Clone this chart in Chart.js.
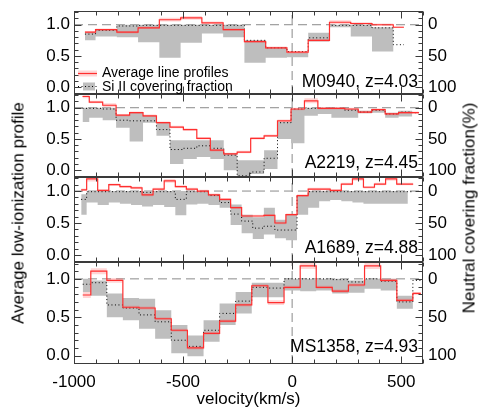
<!DOCTYPE html>
<html><head><meta charset="utf-8">
<script src="https://cdn.jsdelivr.net/npm/chart.js@4.4.1/dist/chart.umd.min.js"></script>
<style>
html,body{margin:0;padding:0;background:#fff;}
#wrap{position:relative;width:498px;height:415px;overflow:hidden;background:#fff;}
#wrap canvas{position:absolute;left:0;}
.vt{position:absolute;font-family:"Liberation Sans",Arial,Helvetica,sans-serif;font-size:17px;color:#000;white-space:nowrap;line-height:1;transform:translate(-50%,-50%) rotate(-90deg);}
</style></head>
<body>
<div id="wrap">
<canvas id="p1"></canvas><canvas id="p2"></canvas><canvas id="p3"></canvas><canvas id="p4"></canvas>
<div class="vt" style="left:18px;top:213px;">Average low-ionization profile</div>
<div class="vt" style="left:469px;top:208px;">Neutral covering fraction(%)</div>
</div>
<script>
const FONT = '"Liberation Sans", Arial, Helvetica, sans-serif';
const X_TICKS = [-1000, -500, 0, 500];
const Y_TICKS = [0, 0.5, 1.0];
const R_TICKS = [0, 50, 100];
const X_MIN = -1000, X_MAX = 600, Y_MIN = -0.11, Y_MAX = 1.22;
const LEGEND_LABELS = ['Average line profiles', 'Si II covering fraction'];

// M0940, z=4.03
const m0940Vel  = [-950,-852.5,-755,-657.5,-560,-462.5,-365,-267.5,-170,-72.5,25,122.5,220,317.5,415,512.5];
const m0940Prof = [0.88,0.92,0.88,0.95,1.08,1.11,1.03,0.92,0.73,0.63,0.56,0.75,1.04,1.02,1.00,0.96];
const m0940Err  = [0.02,0.02,0.02,0.02,0.03,0.03,0.02,0.02,0.02,0.02,0.02,0.02,0.03,0.02,0.02,0.01];
const m0940Cf   = [0.85,0.91,0.98,0.99,0.99,0.99,0.99,0.99,0.75,0.63,0.57,0.79,0.99,0.99,0.95,0.68];
const m0940CfHi = [0.88,0.93,1.00,1.00,1.00,1.00,1.00,1.00,0.75,0.64,0.55,0.87,1.00,1.00,0.96,0.68];
const m0940CfLo = [0.75,0.81,0.80,0.72,0.47,0.71,0.86,0.80,0.39,0.47,0.48,0.73,0.96,0.81,0.57,0.68];

// A2219, z=4.45
const a2219Vel  = [-961,-899,-838,-776,-714,-653,-591,-529,-468,-406,-344,-283,-221,-159,-98,-36,26,87,149,211,272,334,396,457,519,581];
const a2219Prof = [1.18,1.09,1.04,0.88,0.92,0.87,0.76,0.69,0.65,0.51,0.32,0.26,0.29,0.51,0.55,0.79,0.98,1.11,0.99,0.99,0.98,0.93,0.97,0.90,0.92,0.92];
const a2219Err  = [0.03,0.02,0.03,0.02,0.02,0.02,0.02,0.02,0.02,0.02,0.02,0.02,0.02,0.02,0.02,0.02,0.02,0.04,0.02,0.02,0.02,0.02,0.02,0.02,0.02,0.02];
const a2219Cf   = [0.99,0.99,0.98,0.80,0.79,0.79,0.65,0.33,0.35,0.39,0.35,0.24,-0.09,-0.03,0.19,0.76,0.98,0.99,0.99,0.99,0.96,0.93,0.96,0.90,0.93,0.92];
const a2219CfHi = [1.00,1.00,1.00,0.88,0.92,0.87,0.76,0.48,0.48,0.48,0.48,0.27,0.16,0.16,0.32,0.77,0.98,1.00,1.00,1.00,0.98,0.95,0.97,0.92,0.95,0.92];
const a2219CfLo = [0.77,0.84,0.80,0.68,0.46,0.76,0.55,0.10,0.18,0.21,0.18,0.00,-0.10,-0.06,0.02,0.50,0.43,0.87,0.90,0.84,0.84,0.91,0.92,0.84,0.86,0.92];

// A1689, z=4.88
const a1689Vel  = [-967,-917,-866,-815,-764,-713,-663,-612,-561,-510,-460,-409,-358,-307,-257,-206,-155,-104,-54,-3,48,99,149,200,251,302,352,403,454,505,555];
const a1689Prof = [1.02,1.19,1.01,1.10,1.07,1.05,0.94,1.03,1.16,1.07,1.03,1.00,0.94,0.87,0.74,0.61,0.61,0.62,0.50,0.63,0.93,1.03,1.03,1.01,1.11,1.19,1.06,1.11,1.19,1.11,1.11];
const a1689Err  = [0.02,0.04,0.02,0.02,0.02,0.02,0.02,0.02,0.03,0.02,0.02,0.02,0.02,0.02,0.02,0.02,0.02,0.02,0.02,0.02,0.02,0.02,0.02,0.02,0.02,0.03,0.02,0.02,0.03,0.02,0.02];
const a1689Cf   = [0.87,0.99,0.99,0.99,0.99,0.99,0.98,0.99,0.99,0.87,0.99,0.99,0.93,0.82,0.64,0.53,0.42,0.45,0.39,0.39,0.93,0.99,0.99,0.99,0.99,0.99,0.99,0.99,0.99,0.99,0.99];
const a1689CfHi = [0.95,1.00,1.00,1.00,1.00,1.00,1.00,1.00,1.00,1.00,1.00,1.00,0.95,0.87,0.79,0.63,0.59,0.74,0.55,0.63,0.94,1.00,1.00,1.00,1.00,1.00,1.00,1.00,1.00,1.00,0.99];
const a1689CfLo = [0.63,0.82,0.78,0.82,0.80,0.78,0.76,0.78,0.75,0.62,0.79,0.80,0.78,0.74,0.47,0.34,0.25,0.32,0.26,0.23,0.63,0.74,0.84,0.86,0.84,0.82,0.80,0.80,0.80,0.80,0.99];

// MS1358, z=4.93
const ms1358Vel  = [-960,-886,-813,-739,-665,-591,-517,-443,-369,-296,-222,-148,-74,0,74,147,221,295,369,443,517,590];
const ms1358Prof = [0.79,1.10,0.98,0.63,0.62,0.48,0.33,0.10,0.29,0.45,0.66,0.91,0.69,0.89,1.17,0.89,0.84,0.92,1.17,0.98,0.72,0.81];
const ms1358Err  = [0.04,0.04,0.03,0.02,0.02,0.02,0.02,0.02,0.02,0.02,0.02,0.02,0.03,0.02,0.04,0.02,0.02,0.02,0.04,0.02,0.02,0.02];
const ms1358Cf   = [0.93,0.95,0.66,0.62,0.53,0.44,0.20,0.12,0.33,0.55,0.71,0.89,0.88,1.00,1.00,1.00,0.99,0.96,1.00,0.97,0.70,0.98];
const ms1358CfHi = [1.00,0.98,0.81,0.75,0.74,0.59,0.40,0.26,0.46,0.68,0.83,0.95,0.95,1.00,1.00,1.00,1.00,0.98,1.00,1.00,0.78,0.98];
const ms1358CfLo = [0.83,0.78,0.50,0.46,0.35,0.22,0.03,-0.01,0.18,0.40,0.55,0.76,0.76,0.85,0.84,0.85,0.81,0.82,0.87,0.85,0.61,0.98];

const RED = '#ff2e2e', PINK = 'rgba(255,70,70,0.22)', GRAY = '#bebebe', DASH = '#8a8a8a';

const panels = [
  {id:'p1', label:'M0940, z=4.03',  top:11,  bottom:94,  labelY:82,  vel:m0940Vel,  prof:m0940Prof,  err:m0940Err,  cf:m0940Cf,  hi:m0940CfHi,  lo:m0940CfLo,  legend:true},
  {id:'p2', label:'A2219, z=4.45',  top:94,  bottom:177, labelY:163, vel:a2219Vel,  prof:a2219Prof,  err:a2219Err,  cf:a2219Cf,  hi:a2219CfHi,  lo:a2219CfLo},
  {id:'p3', label:'A1689, z=4.88',  top:177, bottom:262, labelY:248, vel:a1689Vel,  prof:a1689Prof,  err:a1689Err,  cf:a1689Cf,  hi:a1689CfHi,  lo:a1689CfLo},
  {id:'p4', label:'MS1358, z=4.93', top:262, bottom:364, labelY:347, vel:ms1358Vel, prof:ms1358Prof, err:ms1358Err, cf:ms1358Cf, hi:ms1358CfHi, lo:ms1358CfLo, isBottom:true}
];

const deco = {
  id: 'deco',
  afterDraw(chart, args, o) {
    const {ctx, chartArea: a} = chart;
    const x = chart.scales.x, y = chart.scales.y, r = chart.scales.yr;
    const L = Math.round(a.left) + 0.5, R = Math.round(a.right) - 0.5;
    const T = Math.round(a.top) + 0.5, B = Math.round(a.bottom) - 0.5;
    ctx.save();
    ctx.strokeStyle = '#3a3a3a'; ctx.lineWidth = 1;
    ctx.strokeRect(L, T, R - L, B - T);
    ctx.beginPath();
    for (let v = X_MIN; v <= X_MAX; v += 100) {
      const px = Math.round(x.getPixelForValue(v)) + 0.5;
      const len = X_TICKS.includes(v) ? 7 : 4;
      ctx.moveTo(px, B); ctx.lineTo(px, B - len);
      ctx.moveTo(px, T); ctx.lineTo(px, T + len);
    }
    for (let k = -1; k <= 12; k++) {
      const py = Math.round(y.getPixelForValue(k / 10)) + 0.5;
      const len = (k % 5 === 0) ? 7 : 4;
      ctx.moveTo(L, py); ctx.lineTo(L + len, py);
    }
    for (let k = -2; k <= 11; k++) {
      const py = Math.round(r.getPixelForValue(k * 10)) + 0.5;
      const len = (k % 5 === 0) ? 7 : 4;
      ctx.moveTo(R, py); ctx.lineTo(R - len, py);
    }
    ctx.stroke();
    ctx.fillStyle = '#000';
    ctx.font = '17.5px ' + FONT;
    ctx.textAlign = 'right'; ctx.textBaseline = 'middle';
    ctx.fillText(o.label, 418, o.labelY - o.canvasTop);
    if (o.legend) {
      const c = o.canvasTop;
      ctx.fillStyle = PINK; ctx.fillRect(78, 70.5 - c, 19, 6);
      ctx.strokeStyle = RED; ctx.lineWidth = 1.2;
      ctx.beginPath(); ctx.moveTo(78, 73.5 - c); ctx.lineTo(97, 73.5 - c); ctx.stroke();
      ctx.fillStyle = GRAY; ctx.fillRect(83, 82.5 - c, 12, 8);
      ctx.strokeStyle = '#000'; ctx.lineWidth = 1; ctx.setLineDash([1, 2.5]);
      ctx.beginPath(); ctx.moveTo(78, 86.5 - c); ctx.lineTo(97, 86.5 - c); ctx.stroke();
      ctx.setLineDash([]);
      ctx.fillStyle = '#000'; ctx.font = '14px ' + FONT; ctx.textAlign = 'left';
      ctx.fillText(LEGEND_LABELS[0], 102, 73.5 - c);
      ctx.fillText(LEGEND_LABELS[1], 102, 87 - c);
    }
    ctx.restore();
  }
};

function xy(vel, vals) { return vel.map((v, i) => ({x: v, y: vals[i]})); }

panels.forEach(p => {
  const padTop = 18, padBottom = p.isBottom ? 0 : 18, xAxisH = p.isBottom ? 51 : 0;
  const canvasTop = p.top - padTop;
  const h = (p.bottom - p.top) + padTop + padBottom + xAxisH;
  const cv = document.getElementById(p.id);
  cv.width = 498; cv.height = h;
  cv.style.width = '498px'; cv.style.height = h + 'px'; cv.style.top = canvasTop + 'px';
  const base = {pointRadius: 0, pointHoverRadius: 0, tension: 0, fill: false, spanGaps: false};
  const none = 'rgba(0,0,0,0)';
  const datasets = [
    {...base, data: xy(p.vel, p.prof), borderColor: RED, borderWidth: 1.2, stepped: 'middle', order: 1},
    {...base, data: xy(p.vel, p.prof.map((v, i) => v - p.err[i])), borderColor: none, borderWidth: 0, stepped: 'middle', order: 3},
    {...base, data: xy(p.vel, p.prof.map((v, i) => v + p.err[i])), borderColor: none, borderWidth: 0, stepped: 'middle', order: 2, fill: 1, backgroundColor: PINK},
    {...base, data: xy(p.vel, p.cf), borderColor: '#000', borderWidth: 1, borderDash: [1, 2.5], stepped: 'middle', order: 4},
    {...base, data: xy(p.vel, p.lo), borderColor: none, borderWidth: 0, stepped: 'middle', order: 6},
    {...base, data: xy(p.vel, p.hi), borderColor: none, borderWidth: 0, stepped: 'middle', order: 5, fill: 4, backgroundColor: GRAY},
    {...base, data: [{x: X_MIN, y: 1}, {x: X_MAX, y: 1}], borderColor: DASH, borderWidth: 1, borderDash: [9, 5], order: 8},
    {...base, data: [{x: 0, y: Y_MIN}, {x: 0, y: Y_MAX}], borderColor: DASH, borderWidth: 1, borderDash: [9, 5], order: 8}
  ];
  const tickFont = {family: FONT, size: 17};
  new Chart(cv, {
    type: 'line',
    data: {datasets},
    plugins: [deco],
    options: {
      responsive: false, animation: false, devicePixelRatio: 1,
      layout: {padding: {top: padTop, bottom: padBottom, left: 0, right: 0}},
      plugins: {
        legend: {display: false}, tooltip: {enabled: false},
        deco: {label: p.label, labelY: p.labelY, canvasTop: canvasTop, legend: !!p.legend}
      },
      scales: {
        x: {
          type: 'linear', min: X_MIN, max: X_MAX, display: !!p.isBottom,
          grid: {display: false, drawTicks: false}, border: {display: false},
          afterBuildTicks: s => { s.ticks = X_TICKS.map(v => ({value: v})); },
          ticks: {font: tickFont, color: '#000', padding: 8, maxRotation: 0, autoSkip: false, callback: v => String(v)},
          title: {display: true, text: 'velocity(km/s)', font: tickFont, color: '#000', padding: {top: 0, bottom: 5}},
          afterFit: s => { s.height = xAxisH; }
        },
        y: {
          type: 'linear', position: 'left', min: Y_MIN, max: Y_MAX,
          grid: {display: false, drawTicks: false}, border: {display: false},
          afterBuildTicks: s => { s.ticks = Y_TICKS.map(v => ({value: v})); },
          ticks: {font: tickFont, color: '#000', padding: 4, callback: v => Number(v).toFixed(1)},
          afterFit: s => { s.width = 74; }
        },
        yr: {
          type: 'linear', position: 'right', reverse: true, min: (1 - Y_MAX) * 100, max: (1 - Y_MIN) * 100,
          grid: {display: false, drawTicks: false}, border: {display: false},
          afterBuildTicks: s => { s.ticks = R_TICKS.map(v => ({value: v})); },
          ticks: {font: tickFont, color: '#000', padding: 5, callback: v => String(v)},
          afterFit: s => { s.width = 75; }
        }
      }
    }
  });
});
</script>
</body></html>
